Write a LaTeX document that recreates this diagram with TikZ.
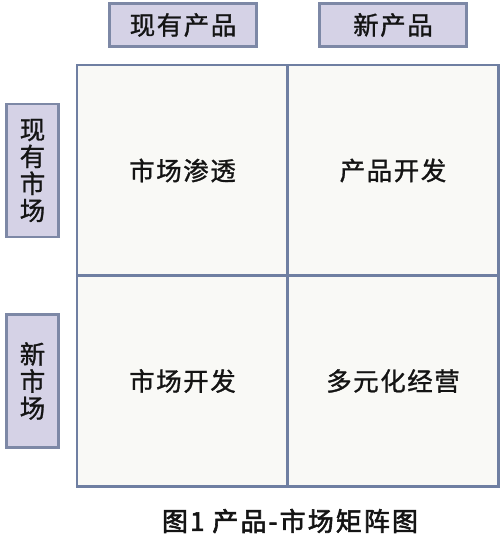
\documentclass[tikz,border=0pt]{standalone}
\usepackage{fontspec}
\setmainfont{Noto Sans CJK SC}[LetterSpace=6,FakeBold=1.1]
\newfontfamily\capfont{Noto Sans CJK SC}[LetterSpace=8,FakeBold=2.2]
\definecolor{boxfill}{HTML}{D5D2E6}
\definecolor{boxline}{HTML}{7D88A6}
\definecolor{gridline}{HTML}{6F7FA2}
\definecolor{cellfill}{HTML}{F9F9F6}
\definecolor{txt}{HTML}{141414}
\begin{document}
\begin{tikzpicture}[x=1pt,y=-1pt,
  labelbox/.style={draw=boxline,fill=boxfill,line width=2.5pt,inner sep=0pt,text=txt,
    font=\fontsize{25.5}{27}\selectfont},
  cell/.style={draw=gridline,fill=cellfill,line width=2.8pt,inner sep=0pt,minimum width=211pt,minimum height=211pt,
    text=txt,font=\fontsize{25.5}{27}\selectfont},
  caption/.style={text=txt,font=\capfont\fontsize{26}{28}\selectfont,inner sep=0pt}]
\useasboundingbox[fill=white] (0,0) rectangle (500,554);
% top labels
\node[labelbox,minimum width=147pt,minimum height=43pt] (tp1) at (183,25) {现有产品};
\node[labelbox,minimum width=147pt,minimum height=43pt] (tp2) at (393,25) {新产品};
% left labels
\node[labelbox,minimum width=52pt,minimum height=133pt,align=center] (lm1) at (32.5,170.5) {现\\有\\市\\场};
\node[labelbox,minimum width=52pt,minimum height=133pt,align=center] (lm2) at (32.5,381) {新\\市\\场};
% cells
\node[cell] (c11) at (182.5,170.5) {市场渗透};
\node[cell] (c12) at (393,170.5) {产品开发};
\node[cell] (c21) at (182.5,381) {市场开发};
\node[cell] (c22) at (393,381) {多元化经营};
% caption
\node[caption] (cap) at (290,521) {图1 产品-市场矩阵图};
\end{tikzpicture}
\end{document}
